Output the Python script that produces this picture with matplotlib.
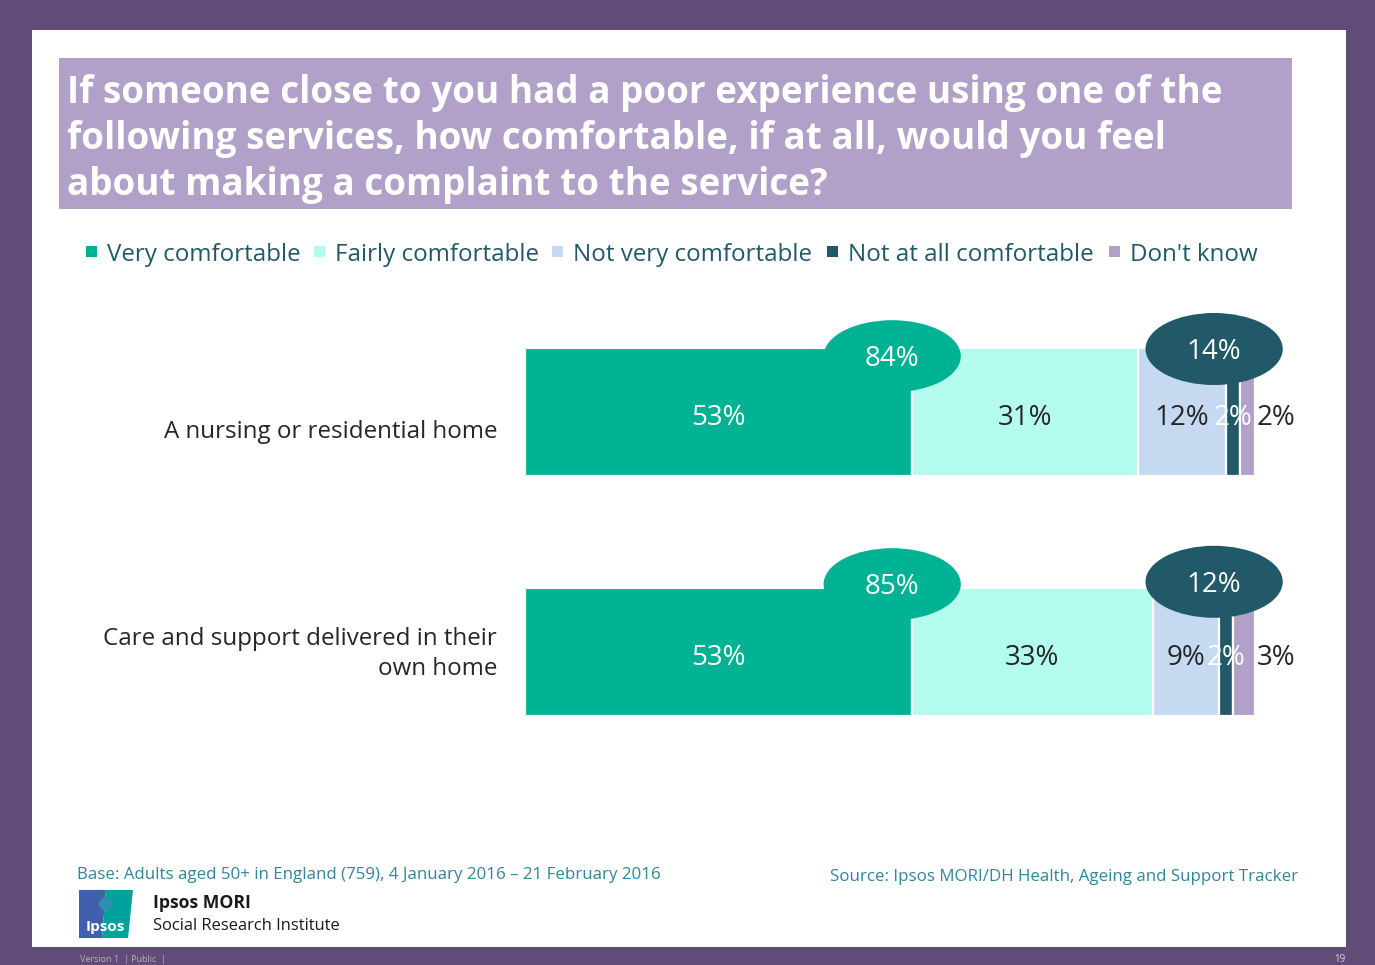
import matplotlib
matplotlib.use("Agg")
import matplotlib.pyplot as plt
from matplotlib.patches import Rectangle, Ellipse, Polygon
import numpy as np

plt.rcParams['font.family'] = ['Open Sans', 'DejaVu Sans']

# ---- data ----
services = ["A nursing or residential home",
            "Care and support delivered in their\nown home"]
responses = ["Very comfortable", "Fairly comfortable", "Not very comfortable",
             "Not at all comfortable", "Don't know"]
very_comfortable = [53, 53]
fairly_comfortable = [31, 33]
not_very_comfortable = [12, 9]
not_at_all_comfortable = [2, 2]
dont_know = [2, 3]
net_comfortable = [84, 85]
net_uncomfortable = [14, 12]

colors = ["#00b294", "#b3fcee", "#c5d9f1", "#215968", "#b1a0c7"]
label_colors = ["white", "#262626", "#262626", "white", "#262626"]

PURPLE = "#614c78"
TEAL_TEXT = "#215968"
NOTE = "#31859c"

W, H = 1375, 965
fig = plt.figure(figsize=(W / 100, H / 100), dpi=100)
fig.patch.set_facecolor(PURPLE)


def fx(x):
    return x / W


def fy(y):
    return 1 - y / H


def rect_px(x0, y0, x1, y1, color, z=0):
    fig.patches.append(Rectangle((fx(x0), fy(y1)), fx(x1) - fx(x0), fy(y0) - fy(y1),
                                 transform=fig.transFigure, facecolor=color,
                                 edgecolor="none", zorder=z))


# white slide panel and title banner
rect_px(32, 30, 1346, 947, "white", z=-2)
rect_px(59, 58, 1292, 209, "#b1a0c7", z=1)
title_lines = ["If someone close to you had a poor experience using one of the",
               "following services, how comfortable, if at all, would you feel",
               "about making a complaint to the service?"]
for i, line in enumerate(title_lines):
    fig.text(fx(67), fy(92.5 + 46.5 * i), line, color="white", fontsize=26.6,
             fontweight="bold", va="center", ha="left", zorder=2)

# legend row
leg_sq = [86, 314, 552, 827, 1109]
for x0, lab, c in zip(leg_sq, responses, colors):
    rect_px(x0, 246, x0 + 11, 257, c, z=2)
    fig.text(fx(x0 + 21), fy(255), lab, color=TEAL_TEXT, fontsize=17.4,
             va="center", ha="left")

# ---- chart ----
ax_left, ax_right = 525, 1255
ax_top, ax_bot = 292, 772
ax = fig.add_axes([fx(ax_left), fy(ax_bot), fx(ax_right) - fx(ax_left),
                   fy(ax_top) - fy(ax_bot)], zorder=5)
ax.set_xlim(0, 100)
ax.set_ylim(1.5, -0.5)
ax.axis("off")
ax.patch.set_alpha(0)

series = [very_comfortable, fairly_comfortable, not_very_comfortable,
          not_at_all_comfortable, dont_know]
ypos = np.arange(len(services))
bar_h = 0.535
left = np.zeros(len(services))
for vals, c in zip(series, colors):
    vals = np.array(vals, dtype=float)
    ax.barh(ypos, vals, left=left, height=bar_h, color=c, edgecolor="white",
            linewidth=1.6, zorder=2)
    left += vals

# net bubbles
txt_dy = 0.013
lab_fs = 20
for i in range(len(services)):
    top = ypos[i] - bar_h / 2
    yc = top + 0.035 - 0.05 * i
    ax.add_patch(Ellipse((50.3, yc), 18.8, 0.30, facecolor=colors[0],
                         edgecolor="none", zorder=3, clip_on=False))
    ax.text(50.3, yc + txt_dy, f"{net_comfortable[i]}%", color="white",
            fontsize=lab_fs, ha="center", va="center", zorder=4)
    yn = top + 0.005 - 0.03 * i
    ax.add_patch(Ellipse((94.4, yn), 18.8, 0.30, facecolor=colors[3],
                         edgecolor="none", zorder=3, clip_on=False))
    ax.text(94.4, yn + txt_dy, f"{net_uncomfortable[i]}%",
            color="white", fontsize=lab_fs, ha="center", va="center", zorder=4)

# segment labels
left = np.zeros(len(services))
for k, (vals, tc) in enumerate(zip(series, label_colors)):
    for i, v in enumerate(vals):
        if k == len(series) - 1:
            xt, ha = left[i] + v + 0.2, "left"
        else:
            xt, ha = left[i] + v / 2, "center"
        ax.text(xt, ypos[i] + 0.01 + txt_dy, f"{v}%", color=tc, fontsize=lab_fs,
                ha=ha, va="center", zorder=2.5 if k == 3 else 4)
    left += np.array(vals)

# category labels
cat_y = [432, 654]
for i, s in enumerate(services):
    fig.text(fx(497), fy(cat_y[i]), s,
             color="#262626", fontsize=17.4, ha="right", va="center",
             linespacing=1.33, multialignment="right")

# notes
fig.text(fx(77), fy(875), "Base: Adults aged 50+ in England (759), 4 January 2016 \u2013 21 February 2016",
         color=NOTE, fontsize=12.2, ha="left", va="center")
fig.text(fx(1298), fy(877), "Source: Ipsos MORI/DH Health, Ageing and Support Tracker",
         color=NOTE, fontsize=12.2, ha="right", va="center")

# Ipsos logo
fig.patches.append(Polygon([(fx(79), fy(890)), (fx(106), fy(890)), (fx(102), fy(938)),
                            (fx(79), fy(938))], closed=True, transform=fig.transFigure,
                           facecolor="#3f60ad", edgecolor="none", zorder=2))
fig.patches.append(Polygon([(fx(106), fy(890)), (fx(133), fy(890)), (fx(128), fy(938)),
                            (fx(102), fy(938))], closed=True, transform=fig.transFigure,
                           facecolor="#00a39b", edgecolor="none", zorder=2))
fig.patches.append(Ellipse((fx(106), fy(904)), fx(14), 13 / H, transform=fig.transFigure,
                           facecolor="#2c8fb0", edgecolor="none", zorder=3))
fig.text(fx(105), fy(927), "Ipsos", color="white", fontsize=11, fontweight="bold",
         ha="center", va="center", zorder=4)
fig.text(fx(153), fy(903), "Ipsos MORI", color="#1a1a1a", fontsize=12.7,
         fontweight="bold", ha="left", va="center")
fig.text(fx(153), fy(926), "Social Research Institute", color="#1a1a1a", fontsize=11.9,
         ha="left", va="center")

# footer band
fig.text(fx(80), fy(960), "Version 1  | Public  |", color="#b8b0c4", fontsize=6.5,
         ha="left", va="center")
fig.text(fx(1340), fy(960), "19", color="#d8d0e0", fontsize=7, ha="center", va="center")

fig.savefig("out.png", dpi=100, facecolor=fig.get_facecolor())
